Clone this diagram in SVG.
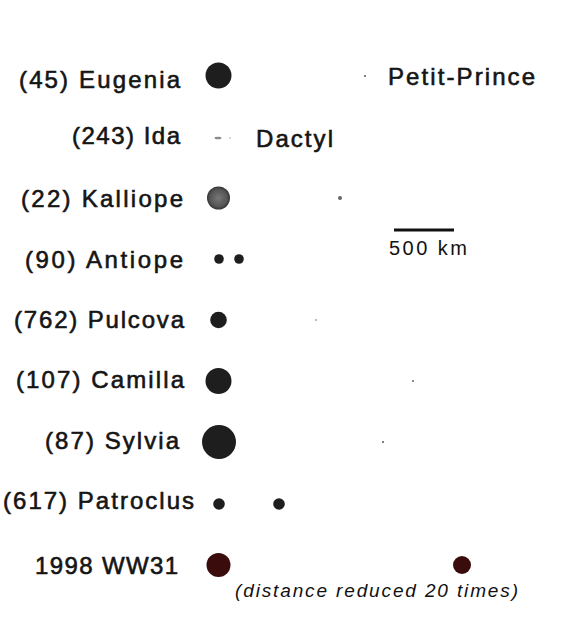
<svg xmlns="http://www.w3.org/2000/svg" width="580" height="640" viewBox="0 0 580 640">
<style>
.lbl{font-family:"Liberation Sans",Arial,sans-serif;font-size:24px;fill:#151515;stroke:#151515;stroke-width:0.6px}
.sm{font-family:"Liberation Sans",Arial,sans-serif;font-size:20px;fill:#111}
.cap{font-family:"Liberation Sans",Arial,sans-serif;font-size:19px;font-style:italic;fill:#111}
.body{fill:#1e1e1e}
.moon{fill:#444}
.red{fill:#3a0c0c}
</style>
<defs>
<radialGradient id="kal" cx="0.5" cy="0.5" r="0.5">
<stop offset="0" stop-color="#777"/>
<stop offset="0.75" stop-color="#555"/>
<stop offset="1" stop-color="#333"/>
</radialGradient>
</defs>
<rect width="580" height="640" fill="#fff"/>
<g id="eugenia">
<text class="lbl" x="19" y="88" textLength="161" lengthAdjust="spacing">(45) Eugenia</text>
<circle class="body" cx="218.5" cy="75.5" r="13"/>
<circle class="moon" cx="365" cy="76" r="0.9"/>
<text class="lbl" x="388" y="85" textLength="147" lengthAdjust="spacing">Petit-Prince</text>
</g>
<g id="ida">
<text class="lbl" x="72" y="144" textLength="108" lengthAdjust="spacing">(243) Ida</text>
<ellipse cx="218" cy="138" rx="3.5" ry="1.3" fill="#8a8a8a"/>
<circle cx="230" cy="138" r="0.7" fill="#999"/>
<text class="lbl" x="256" y="147" textLength="77" lengthAdjust="spacing">Dactyl</text>
</g>
<g id="kalliope">
<text class="lbl" x="21" y="207" textLength="162" lengthAdjust="spacing">(22) Kalliope</text>
<circle cx="218.5" cy="198" r="11.5" fill="url(#kal)"/>
<circle cx="340" cy="198" r="2" fill="#666"/>
</g>
<g id="scale">
<rect x="394" y="228.5" width="60" height="3" fill="#111"/>
<text class="sm" x="389" y="255" textLength="78" lengthAdjust="spacing">500 km</text>
</g>
<g id="antiope">
<text class="lbl" x="25" y="268" textLength="158" lengthAdjust="spacing">(90) Antiope</text>
<circle class="body" cx="219" cy="259" r="4.8"/>
<circle class="body" cx="239" cy="259" r="4.8"/>
</g>
<g id="pulcova">
<text class="lbl" x="14" y="328" textLength="170" lengthAdjust="spacing">(762) Pulcova</text>
<circle class="body" cx="218.5" cy="320" r="8.3"/>
<circle class="moon" cx="316" cy="320" r="0.7"/>
</g>
<g id="camilla">
<text class="lbl" x="16" y="388" textLength="168" lengthAdjust="spacing">(107) Camilla</text>
<circle class="body" cx="218.5" cy="381" r="13"/>
<circle fill="#000" cx="413" cy="381" r="0.8"/>
</g>
<g id="sylvia">
<text class="lbl" x="45" y="449" textLength="134" lengthAdjust="spacing">(87) Sylvia</text>
<circle class="body" cx="219" cy="442" r="17"/>
<circle class="moon" cx="383" cy="442" r="0.9"/>
</g>
<g id="patroclus">
<text class="lbl" x="3" y="509" textLength="191" lengthAdjust="spacing">(617) Patroclus</text>
<circle class="body" cx="219" cy="504" r="5.8"/>
<circle class="body" cx="279" cy="504" r="5.8"/>
</g>
<g id="ww31">
<text class="lbl" x="35" y="574" textLength="143" lengthAdjust="spacing">1998 WW31</text>
<circle class="red" cx="218.5" cy="565" r="12"/>
<circle class="red" cx="462" cy="565" r="9"/>
<text class="cap" x="235" y="597" textLength="283" lengthAdjust="spacing">(distance reduced 20 times)</text>
</g>
</svg>
